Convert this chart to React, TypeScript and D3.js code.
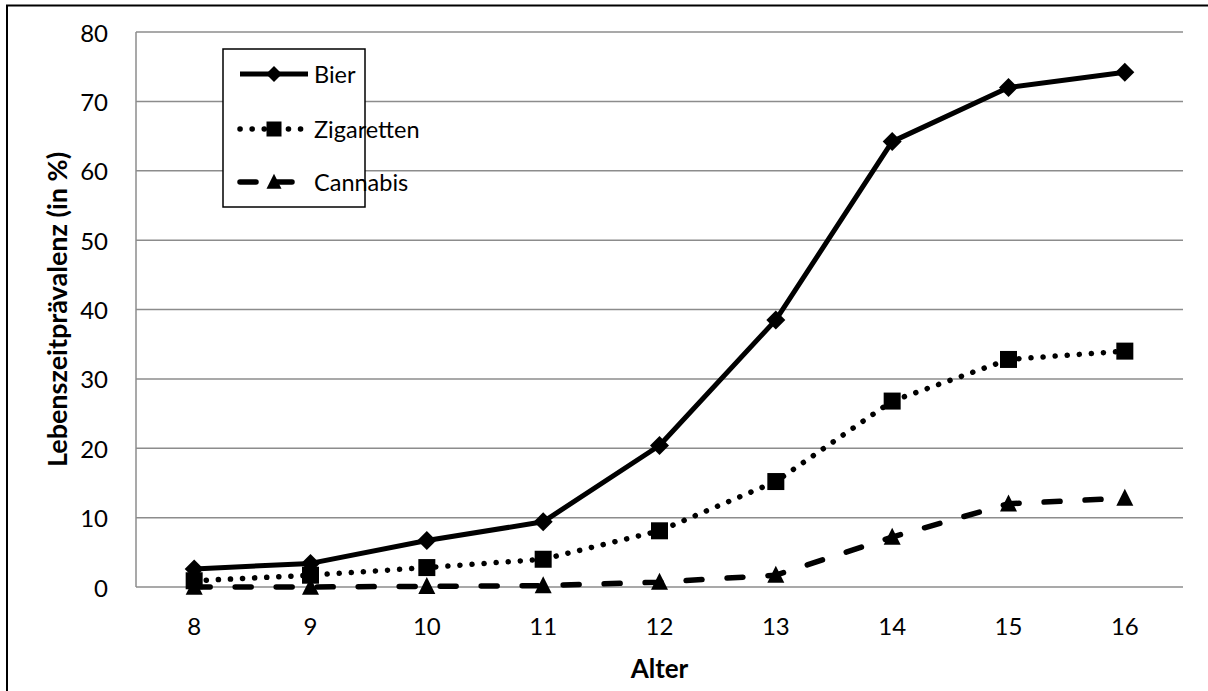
import React from "react";
import * as d3 from "d3";

const ages = [8, 9, 10, 11, 12, 13, 14, 15, 16];
const bier = [2.6, 3.4, 6.7, 9.4, 20.4, 38.5, 64.2, 72.0, 74.2];
const zigaretten = [0.9, 1.7, 2.8, 4.0, 8.1, 15.2, 26.8, 32.8, 34.0];
const cannabis = [0.0, 0.0, 0.1, 0.2, 0.7, 1.7, 7.2, 12.0, 12.8];
const yTicks = [0, 10, 20, 30, 40, 50, 60, 70, 80];
const seriesNames = ["Bier", "Zigaretten", "Cannabis"];

const W = 1208;
const H = 691;
const plot = { left: 136, right: 1183, top: 32, bottom: 587 };
const FONT = "Lato, 'Open Sans', sans-serif";

type MarkerKind = "diamond" | "square" | "triangle";

function Marker({ kind, x, y, s }: { kind: MarkerKind; x: number; y: number; s: number }) {
  if (kind === "diamond") {
    const r = s / 2;
    return <path d={`M${x},${y - r}L${x + r},${y}L${x},${y + r}L${x - r},${y}Z`} fill="#000" />;
  }
  if (kind === "square") {
    return <rect x={x - s / 2} y={y - s / 2} width={s} height={s} fill="#000" />;
  }
  const h = s;
  return (
    <path
      d={`M${x},${y - h * 0.55}L${x + s / 2},${y + h * 0.45}L${x - s / 2},${y + h * 0.45}Z`}
      fill="#000"
    />
  );
}

export default function App() {
  const x = d3.scalePoint<number>().domain(ages).range([plot.left, plot.right]).padding(0.5);
  const y = d3.scaleLinear().domain([0, 80]).range([plot.bottom, plot.top]);
  const line = d3
    .line<number>()
    .x((_, i) => x(ages[i]) as number)
    .y((d) => y(d));

  const series = [
    { name: seriesNames[0], values: bier, kind: "diamond" as MarkerKind, dash: undefined, width: 5, cap: "butt", ms: 19, lms: 16 },
    { name: seriesNames[1], values: zigaretten, kind: "square" as MarkerKind, dash: "0.1 12", width: 5.5, cap: "round", ms: 17, lms: 15 },
    { name: seriesNames[2], values: cannabis, kind: "triangle" as MarkerKind, dash: "16 25", width: 5.5, cap: "round", ms: 17, lms: 15 },
  ];

  const legend = { x: 223, y: 49, w: 142, h: 158 };
  const legendRows = [74, 129, 182];

  return (
    <svg
      width={W}
      height={H}
      style={{ position: "absolute", left: 0, top: 0, display: "block", background: "#fff" }}
      fontFamily={FONT}
    >
      <rect x={0} y={0} width={W} height={H} fill="#fff" />
      <rect x={7} y={5.5} width={W + 20} height={H + 20} fill="none" stroke="#000" strokeWidth={2} />

      {/* gridlines */}
      {yTicks.map((t) => (
        <line key={t} x1={plot.left} x2={plot.right} y1={y(t)} y2={y(t)} stroke="#8c8c8c" strokeWidth={1.5} />
      ))}
      <line x1={plot.left} x2={plot.left} y1={plot.top} y2={plot.bottom} stroke="#8c8c8c" strokeWidth={1.5} />

      {/* y tick labels */}
      {yTicks.map((t) => (
        <text key={t} x={108} y={y(t)} textAnchor="end" dominantBaseline="central" fontSize={24} fill="#000">
          {t}
        </text>
      ))}
      {/* x tick labels */}
      {ages.map((a) => (
        <text key={a} x={x(a)} y={625} textAnchor="middle" dominantBaseline="central" fontSize={24} fill="#000">
          {a}
        </text>
      ))}

      {/* axis titles */}
      <text x={659.5} y={668} textAnchor="middle" dominantBaseline="central" fontSize={26} fontWeight="bold">
        Alter
      </text>
      <text
        transform={`translate(56,${(plot.top + plot.bottom) / 2}) rotate(-90)`}
        textAnchor="middle"
        dominantBaseline="central"
        fontSize={27}
        fontWeight="bold"
      >
        Lebenszeitprävalenz (in %)
      </text>

      {/* series */}
      {series.map((s) => (
        <g key={s.name}>
          <path
            d={line(s.values) || ""}
            fill="none"
            stroke="#000"
            strokeWidth={s.width}
            strokeDasharray={s.dash}
            strokeLinecap={s.cap as any}
            strokeLinejoin="round"
          />
          {s.values.map((v, i) => (
            <Marker key={i} kind={s.kind} x={x(ages[i]) as number} y={y(v)} s={s.ms} />
          ))}
        </g>
      ))}

      {/* legend */}
      <rect x={legend.x} y={legend.y} width={legend.w} height={legend.h} fill="#fff" stroke="#000" strokeWidth={1.5} />
      {series.map((s, i) => (
        <g key={s.name}>
          <line
            x1={240}
            x2={308}
            y1={legendRows[i]}
            y2={legendRows[i]}
            stroke="#000"
            strokeWidth={s.width}
            strokeDasharray={s.kind === "triangle" ? "16 20" : s.dash}
            strokeLinecap={s.cap as any}
          />
          <Marker kind={s.kind} x={274} y={legendRows[i]} s={s.lms} />
          <text x={314} y={legendRows[i]} dominantBaseline="central" fontSize={23.5} fill="#000">
            {s.name}
          </text>
        </g>
      ))}
    </svg>
  );
}
